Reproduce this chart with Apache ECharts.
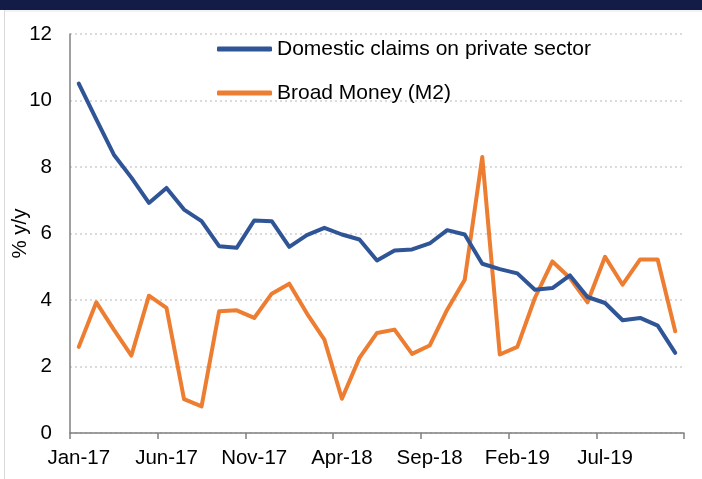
<!DOCTYPE html>
<html>
<head>
<meta charset="utf-8">
<script src="https://cdn.jsdelivr.net/npm/echarts@6/dist/echarts.min.js"></script>
<style>
html,body{margin:0;padding:0;background:#fff;}
#c{width:702px;height:479px;}
</style>
</head>
<body>
<div id="c"></div>
<script>
const categories = ['Jan-17','Feb-17','Mar-17','Apr-17','May-17','Jun-17','Jul-17','Aug-17','Sep-17','Oct-17','Nov-17','Dec-17',
  'Jan-18','Feb-18','Mar-18','Apr-18','May-18','Jun-18','Jul-18','Aug-18','Sep-18','Oct-18','Nov-18','Dec-18',
  'Jan-19','Feb-19','Mar-19','Apr-19','May-19','Jun-19','Jul-19','Aug-19','Sep-19','Oct-19','Nov-19'];
const domesticClaims = [10.51, 9.43, 8.37, 7.68, 6.92, 7.37, 6.72, 6.37, 5.62, 5.57, 6.39, 6.37,
  5.6, 5.95, 6.17, 5.97, 5.82, 5.19, 5.49, 5.52, 5.7, 6.1, 5.97, 5.09,
  4.93, 4.8, 4.31, 4.36, 4.74, 4.09, 3.91, 3.39, 3.46, 3.23, 2.41];
const broadMoney = [2.59, 3.93, 3.11, 2.33, 4.13, 3.76, 1.02, 0.8, 3.66, 3.69, 3.46, 4.19,
  4.49, 3.6, 2.81, 1.03, 2.26, 3.01, 3.11, 2.38, 2.63, 3.71, 4.61, 8.3,
  2.36, 2.59, 4.06, 5.16, 4.66, 3.93, 5.3, 4.46, 5.22, 5.22, 3.06];
const seriesNames = ['Domestic claims on private sector', 'Broad Money (M2)'];
const yAxisName = '% y/y';

const FONT = '"Liberation Sans", Arial, sans-serif';
const AX_FS = 20.5;
const chart = echarts.init(document.getElementById('c'), null, {renderer: 'canvas'});
chart.setOption({
  animation: false,
  backgroundColor: '#ffffff',
  textStyle: {fontFamily: FONT, color: '#000'},
  graphic: [
    {type: 'rect', shape: {x: 0, y: 0, width: 702, height: 10}, style: {fill: '#131c46'}, z: 100},
    {type: 'line', shape: {x1: 4.5, y1: 10, x2: 4.5, y2: 479}, style: {stroke: '#d9d9d9', lineWidth: 1}, z: 100},
    {type: 'line', shape: {x1: 4, y1: 11, x2: 702, y2: 11}, style: {stroke: '#e6e6e6', lineWidth: 1}, z: 100}
  ],
  grid: {left: 70, right: 18, top: 34, bottom: 46, containLabel: false, outerBoundsMode: 'none'},
  legend: {
    orient: 'vertical',
    left: 212,
    top: 33,
    icon: 'roundRect',
    itemWidth: 55,
    itemHeight: 5,
    itemGap: 22,
    textStyle: {fontFamily: FONT, fontSize: 21, lineHeight: 22, color: '#000'},
    data: seriesNames
  },
  xAxis: {
    type: 'category',
    data: categories,
    boundaryGap: true,
    axisLine: {lineStyle: {color: '#808080', width: 1.5}},
    axisTick: {show: true, interval: 4, length: 6, lineStyle: {color: '#808080', width: 1.5}},
    axisLabel: {interval: 4, margin: 15, fontSize: AX_FS, color: '#000', fontFamily: FONT},
    splitLine: {show: false}
  },
  yAxis: {
    type: 'value',
    min: 0, max: 12, interval: 2,
    name: yAxisName,
    nameLocation: 'middle',
    nameRotate: 90,
    nameGap: 39,
    nameMoveOverlap: false,
    nameTextStyle: {fontSize: AX_FS, color: '#000', fontFamily: FONT},
    axisLine: {show: true, lineStyle: {color: '#808080', width: 1.5}},
    axisTick: {show: false},
    axisLabel: {margin: 18, fontSize: AX_FS, color: '#000', fontFamily: FONT},
    splitLine: {show: true, lineStyle: {color: '#d0d0d0', type: [2, 3], width: 1.5}}
  },
  series: [
    {name: seriesNames[0], type: 'line', data: domesticClaims, symbol: 'none',
     lineStyle: {color: '#2f5597', width: 4, cap: 'round', join: 'round'}, itemStyle: {color: '#2f5597'}, z: 3},
    {name: seriesNames[1], type: 'line', data: broadMoney, symbol: 'none',
     lineStyle: {color: '#ed7d31', width: 4, cap: 'round', join: 'round'}, itemStyle: {color: '#ed7d31'}, z: 2}
  ]
});
</script>
</body>
</html>
